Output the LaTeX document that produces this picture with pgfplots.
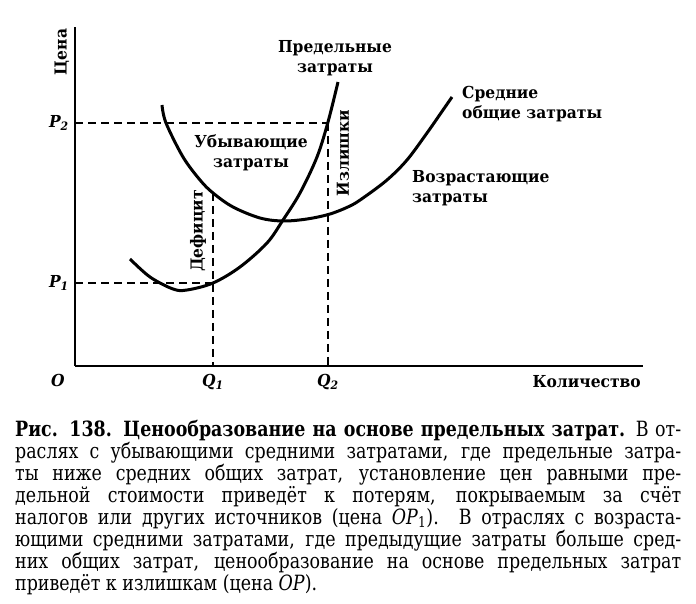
\documentclass[border=0pt]{standalone}
\usepackage{fontspec}
\setmainfont{DejaVu Serif}
\newfontfamily\labfont{DejaVu Serif}[FakeStretch=0.94]
\newfontfamily\capfont{DejaVu Serif}[FakeStretch=0.83]
\usepackage{pgfplots}
\pgfplotsset{compat=1.18}

\tikzset{
  curve/.style={smooth, tension=0.55, line width=3pt, black},
  guide/.style={line width=1.4pt, black, dash pattern=on 8pt off 5pt},
  lab/.style={font=\labfont\bfseries\fontsize{16.5}{19.5}\selectfont, inner sep=0pt},
  captxt/.style={anchor=base west, inner sep=0pt, font=\capfont\fontsize{21}{22}\selectfont},
}

\begin{document}
\begin{tikzpicture}
\useasboundingbox (0pt,0pt) rectangle (696pt,603pt);
\begin{axis}[
  at={(75pt,237pt)}, anchor=south west,
  scale only axis, width=568pt, height=339pt,
  xmin=0, xmax=568, ymin=0, ymax=339,
  axis lines=left, axis line style={-, line width=1.8pt},
  xtick=\empty, ytick=\empty,
  clip=false,
]
% средние общие затраты
\addplot[curve] coordinates {
  (87,261) (91,243) (108,209) (125,186) (138,173) (158,159) (185,148)
  (208,145) (232,147) (255,152) (275,160) (288,168) (312,186) (332,206)
  (352,233) (368,256) (377,269)
};
% предельные затраты
\addplot[curve] coordinates {
  (55,107) (75,89) (98,77) (112,76) (138,83) (165,99) (192,123)
  (208,146) (225,173) (242,209) (253,244) (263,284)
};
% вспомогательные линии
\addplot[guide] coordinates {(0,243) (253,243)};
\addplot[guide] coordinates {(253,243) (253,0)};
\addplot[guide] coordinates {(0,83) (138,83)};
\addplot[guide] coordinates {(138,173) (138,0)};

\node[lab, rotate=90] at (axis cs:-13,314) {Цена};
\node[lab, anchor=east] at (axis cs:-6,243) {\itshape P\textsubscript{2}};
\node[lab, anchor=east] at (axis cs:-6,83) {\itshape P\textsubscript{1}};
\node[lab] at (axis cs:-17,-14) {\itshape O};
\node[lab] at (axis cs:138,-16) {\itshape Q\textsubscript{1}};
\node[lab] at (axis cs:253,-16) {\itshape Q\textsubscript{2}};
\node[lab, anchor=east] at (axis cs:566,-16) {Количество};
\node[lab, align=center] at (axis cs:260,308) {Предельные\\затраты};
\node[lab, align=left, anchor=west] at (axis cs:387,262) {Средние\\общие затраты};
\node[lab, align=center] at (axis cs:176,213) {Убывающие\\затраты};
\node[lab, align=left, anchor=west] at (axis cs:337,178) {Возрастающие\\затраты};
\node[lab, rotate=90] at (axis cs:123,135) {Дефицит};
\node[lab, rotate=90] at (axis cs:268,213) {Излишки};
\end{axis}

\node[captxt] at (15pt,167pt) {\makebox[666pt][s]{\textbf{Рис. 138. Ценообразование на основе предельных затрат.} В от-}};
\node[captxt] at (15pt,145pt) {\makebox[666pt][s]{раслях с убывающими средними затратами, где предельные затра-}};
\node[captxt] at (15pt,123pt) {\makebox[666pt][s]{ты ниже средних общих затрат, установление цен равными пре-}};
\node[captxt] at (15pt,101pt) {\makebox[666pt][s]{дельной стоимости приведёт к потерям, покрываемым за счёт}};
\node[captxt] at (15pt,79pt) {\makebox[666pt][s]{налогов или других источников (цена \textit{OP}\textsubscript{1}). В отраслях с возраста-}};
\node[captxt] at (15pt,57pt) {\makebox[666pt][s]{ющими средними затратами, где предыдущие затраты больше сред-}};
\node[captxt] at (15pt,35pt) {\makebox[666pt][s]{них общих затрат, ценообразование на основе предельных затрат}};
\node[captxt] at (15pt,13pt) {приведёт к излишкам (цена \textit{OP}).};
\end{tikzpicture}
\end{document}
